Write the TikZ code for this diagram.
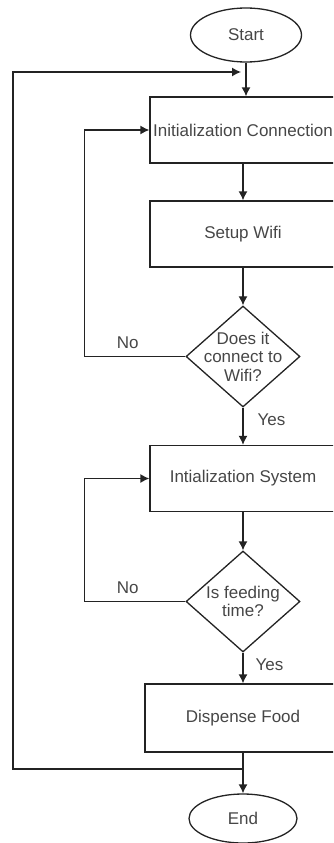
\documentclass[tikz,border=0pt]{standalone}
\usepackage{fontspec}
\setmainfont{Liberation Sans}
\usepackage{xcolor}
\usetikzlibrary{shapes.geometric,arrows.meta}
\definecolor{mytext}{RGB}{70,70,70}
\definecolor{myline}{RGB}{35,35,35}
\tikzset{myprocess/.style={draw=myline,line width=1.3pt,rectangle,minimum width=186pt,minimum height=66pt,inner sep=0pt,text=mytext},
myterminal/.style={draw=myline,line width=1.3pt,ellipse,minimum width=111pt,minimum height=54pt,inner sep=0pt,text=mytext},
mydecision/.style={draw=myline,line width=1.3pt,diamond,minimum width=114pt,minimum height=101pt,inner sep=0pt},
mylabel/.style={text=mytext,align=center,inner sep=0pt},
myarrow/.style={draw=myline,line width=1.3pt,-{Latex[length=9pt,width=9pt]}}}

\begin{document}
\begin{tikzpicture}[x=1pt,y=-1pt,font=\fontsize{17}{18.5}\selectfont]
\useasboundingbox (0,0) rectangle (333,843);
\clip (0,0) rectangle (333,843);

\node[myterminal] (start) at (246,35) {Start};
\node[myprocess] (initconn) at (243,130) {Initialization Connection};
\node[myprocess] (setupwifi) at (243,234) {Setup Wifi};
\node[mydecision] (wifi) at (243,356.5) {};
\node[mylabel] (wifitext) at (wifi) {Does it\\connect to\\Wifi?};
\node[myprocess] (initsys) at (243,478.5) {Intialization System};
\node[mydecision] (feeding) at (243,601.5) {};
\node[mylabel] (feedingtext) at (feeding) {Is feeding\\time?};
\node[myprocess,minimum width=196pt,minimum height=68pt] (dispense) at (243,718) {Dispense Food};
\node[myterminal,minimum width=108pt,minimum height=49pt] (finish) at (243,818.5) {End};

\coordinate (merge) at (241,72);
\coordinate (join) at (243,769);

\draw[myarrow] (start) -- (start |- initconn.north);
\draw[myarrow] (initconn) -- (setupwifi);
\draw[myarrow] (setupwifi) -- (wifi);
\draw[myarrow] (wifi) -- node[mylabel,right=14pt,pos=.33]{Yes} (initsys);
\draw[myarrow] (wifi.west) -- node[mylabel,above=7pt,pos=.57]{No} ++(-101,0) |- (initconn.west);

\draw[myarrow] (initsys) -- (feeding);
\draw[myarrow] (feeding) -- node[mylabel,right=12pt,pos=.39]{Yes} (dispense);
\draw[myarrow] (feeding.west) -- node[mylabel,above=7pt,pos=.57]{No} ++(-101,0) |- (initsys.west);

\draw[myarrow] (dispense) -- (finish);
\draw[myarrow] (join) -- (13,769) |- (merge);
\end{tikzpicture}
\end{document}
